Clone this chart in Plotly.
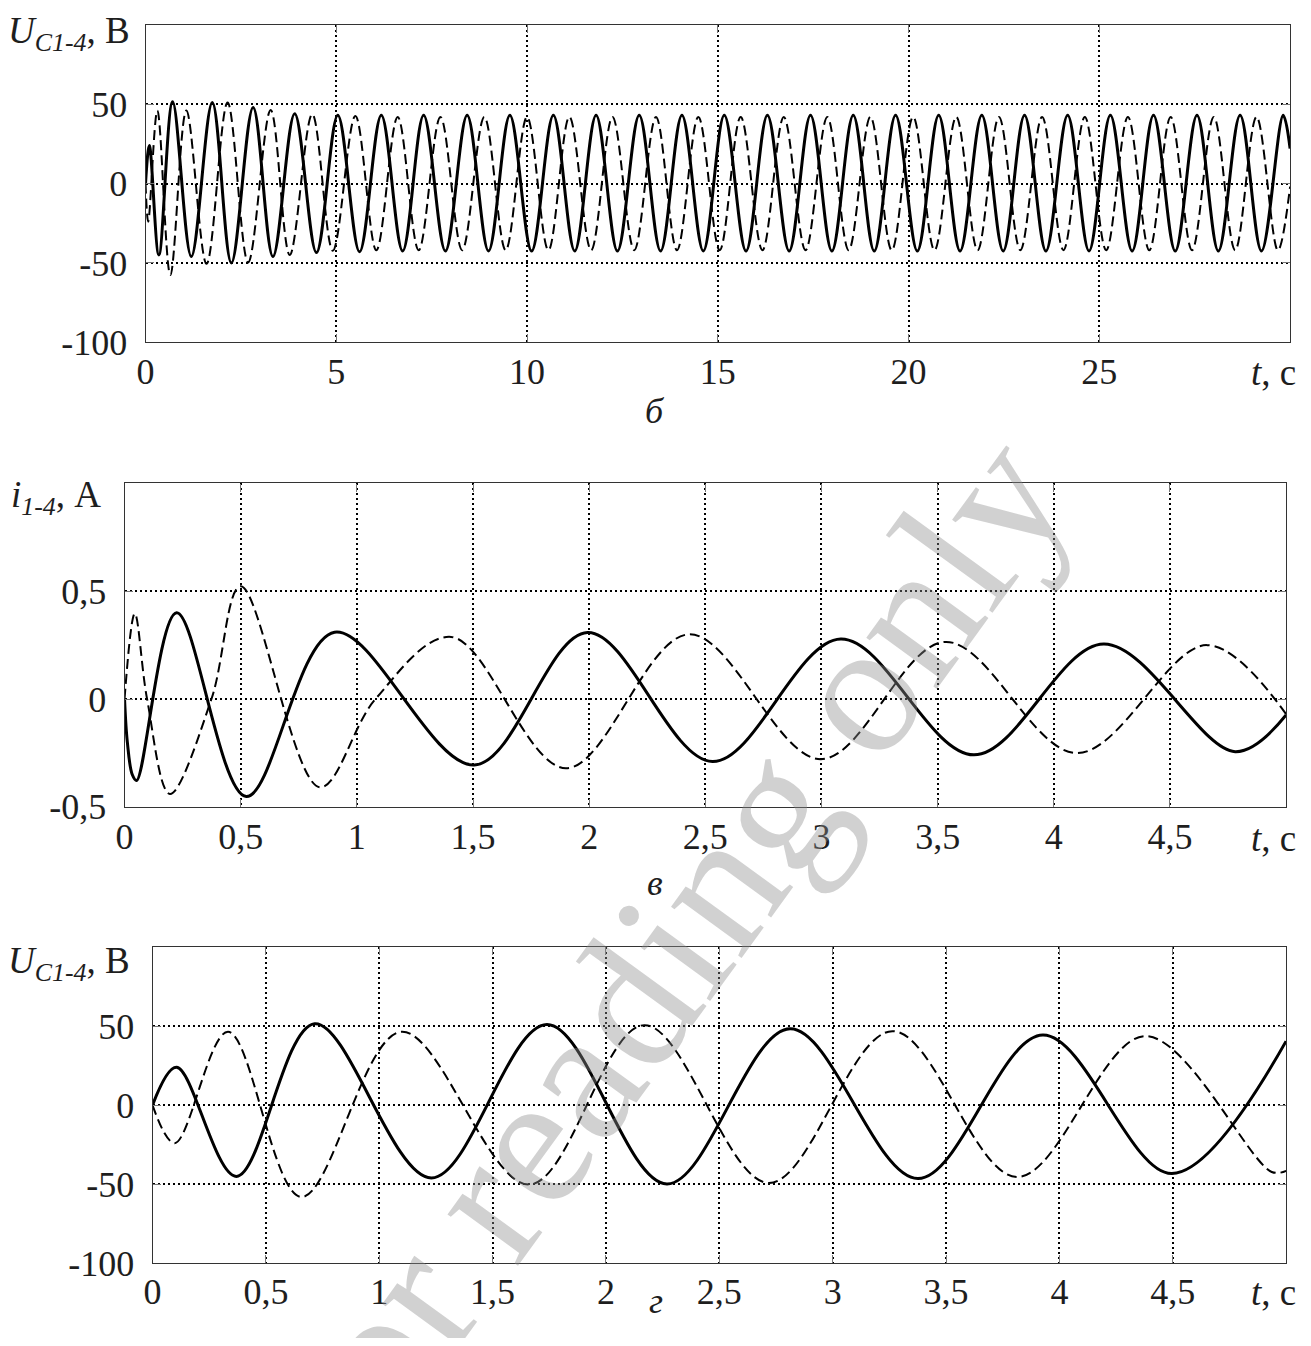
import plotly.graph_objects as go

# ---------------- data ----------------
# panel б : U_C1-4 over 0..30 s  (extrema of the curves)
b_solid_t = [0, 0.10, 0.35, 0.71, 1.20, 1.75, 2.25, 2.82, 3.34, 3.91, 4.48, 5.04, 5.61, 6.18, 6.74,
             7.29, 7.86, 8.43, 8.99, 9.55, 10.12, 10.69, 11.25, 11.81, 12.37, 12.94, 13.50, 14.06,
             14.62, 15.17, 15.74, 16.30, 16.87, 17.43, 17.99, 18.55, 19.10, 19.66, 20.23, 20.79,
             21.35, 21.92, 22.48, 23.04, 23.60, 24.17, 24.73, 25.29, 25.86, 26.42, 26.99, 27.56,
             28.12, 28.69, 29.25, 29.82, 30.0]
b_solid_v = [0, 24, -45, 51.5, -46, 51, -50, 48, -46, 44, -43.5, 43, -43, 43, -42.5,
             43, -42.5, 43, -42.5, 43, -42.5, 43, -42.5, 43, -42.5, 43, -42.5, 43,
             -42.5, 43, -42.5, 43, -42.5, 43, -42.5, 43, -42.5, 43, -42.5, 43,
             -42.5, 43, -42.5, 43, -42.5, 43, -42.5, 43, -42.5, 43, -42.5, 43,
             -42.5, 43, -42.5, 43, 22]
b_dash_t = [0, 0.07, 0.31, 0.65, 1.07, 1.60, 2.15, 2.69, 3.28, 3.78, 4.37, 4.91, 5.50, 6.05, 6.61,
            7.16, 7.73, 8.30, 8.88, 9.44, 10.00, 10.56, 11.11, 11.68, 12.24, 12.81, 13.38, 13.93,
            14.49, 15.05, 15.60, 16.17, 16.73, 17.30, 17.87, 18.43, 19.00, 19.56, 20.12, 20.68,
            21.25, 21.81, 22.37, 22.93, 23.50, 24.06, 24.62, 25.18, 25.75, 26.31, 26.87, 27.43,
            28.00, 28.56, 29.12, 29.68, 30.0]
b_dash_v = [0, -24, 46, -57.6, 46, -50.6, 51, -49.7, 46.4, -45, 43.7, -42.3, 42.6, -42, 42,
            -42, 42, -42, 42, -42, 42, -42, 42, -42, 42, -42, 42, -42,
            42, -42, 42, -42, 42, -42, 42, -42, 42, -42, 42, -42,
            42, -42, 42, -42, 42, -42, 42, -42, 42, -42, 42, -42,
            42, -42, 42, -42, -2]

# panel в : i_1-4 over 0..5 s
c_solid_t = [0, 0.012, 0.033, 0.052, 0.224, 0.524, 0.904, 1.506, 1.993, 2.531, 3.083, 3.656,
             4.215, 4.781, 5.0]
c_solid_v = [0, -0.20, -0.35, -0.378, 0.40, -0.452, 0.31, -0.306, 0.309, -0.29, 0.278, -0.259,
             0.255, -0.244, -0.074]
c_dash_t = [0, 0.044, 0.097, 0.195, 0.374, 0.50, 0.84, 1.08, 1.406, 1.90, 2.43, 2.997, 3.534,
            4.10, 4.659, 5.0]
c_dash_v = [0, 0.397, 0.0, -0.44, 0.0, 0.523, -0.409, 0.0, 0.288, -0.321, 0.30, -0.279, 0.265,
            -0.251, 0.25, -0.07]

# panel г : U_C1-4 over 0..5 s
d_solid_t = [0, 0.106, 0.37, 0.715, 1.23, 1.74, 2.269, 2.812, 3.376, 3.927, 4.496, 5.0]
d_solid_v = [0, 24, -45, 51.5, -46, 51, -49.8, 48.3, -46.4, 44.3, -43.2, 40.5]
d_dash_t = [0, 0.098, 0.333, 0.656, 1.097, 1.662, 2.169, 2.719, 3.263, 3.813, 4.379, 4.937, 5.0]
d_dash_v = [0, -24, 46.4, -58, 46.4, -50.2, 50.6, -49.2, 46.8, -45.4, 43.7, -42.2, -41.5]

# tick labels
b_xticks = [0, 5, 10, 15, 20, 25]
b_xtext = ["0", "5", "10", "15", "20", "25"]
u_yticks = [-100, -50, 0, 50]
u_ytext = ["-100", "-50", "0", "50"]
s_xticks = [0, 0.5, 1, 1.5, 2, 2.5, 3, 3.5, 4, 4.5]
s_xtext = ["0", "0,5", "1", "1,5", "2", "2,5", "3", "3,5", "4", "4,5"]
i_yticks = [-0.5, 0, 0.5]
i_ytext = ["-0,5", "0", "0,5"]

# ---------------- layout geometry ----------------
W, H = 1295, 1330
# observed mapping of figure pixels to the photographed picture
SX, OX = 0.9943, 15.4
SY, OY = 0.983, 8.3


def FX(px):
    return px / SX - OX


def FY(py):
    return py / SY - OY


def dom_x(l, r):
    return [FX(l) / W, FX(r) / W]


def dom_y(t, b):
    return [1 - FY(b) / H, 1 - FY(t) / H]


FONT = "Liberation Serif, Times New Roman, serif"
TXT = "#1e1e1e"

fig = go.Figure()

solid = dict(color="black", width=3, shape="spline", smoothing=1)
dashed = dict(color="black", width=2, dash="10px,5px", shape="spline", smoothing=1)

fig.add_trace(go.Scatter(x=b_solid_t, y=b_solid_v, mode="lines", line=solid, xaxis="x", yaxis="y"))
fig.add_trace(go.Scatter(x=b_dash_t, y=b_dash_v, mode="lines", line=dashed, xaxis="x", yaxis="y"))
fig.add_trace(go.Scatter(x=c_solid_t, y=c_solid_v, mode="lines", line=solid, xaxis="x2", yaxis="y2"))
fig.add_trace(go.Scatter(x=c_dash_t, y=c_dash_v, mode="lines", line=dashed, xaxis="x2", yaxis="y2"))
fig.add_trace(go.Scatter(x=d_solid_t, y=d_solid_v, mode="lines", line=solid, xaxis="x3", yaxis="y3"))
fig.add_trace(go.Scatter(x=d_dash_t, y=d_dash_v, mode="lines", line=dashed, xaxis="x3", yaxis="y3"))

common = dict(
    showgrid=True, gridcolor="black", griddash="2px,3px", gridwidth=1.5,
    zeroline=False, showline=True, linecolor="#333", linewidth=1.2, mirror="ticks",
    ticks="inside", ticklen=8, tickcolor="#777", tickwidth=1,
    tickfont=dict(family=FONT, size=36, color=TXT), tickmode="array",
)

fig.update_layout(
    width=W, height=H, margin=dict(l=0, r=0, t=0, b=0),
    paper_bgcolor="white", plot_bgcolor="rgba(0,0,0,0)", showlegend=False,
    xaxis=dict(common, domain=dom_x(144, 1290), range=[0, 30], tickvals=b_xticks, ticktext=b_xtext,
               anchor="y", ticklabelstandoff=-3),
    yaxis=dict(common, domain=dom_y(25, 342), range=[-100, 100], tickvals=u_yticks, ticktext=u_ytext,
               anchor="x", ticklabelstandoff=10),
    xaxis2=dict(common, domain=dom_x(123, 1286), range=[0, 5], tickvals=s_xticks, ticktext=s_xtext,
                anchor="y2", ticklabelstandoff=-2),
    yaxis2=dict(common, domain=dom_y(483, 806), range=[-0.5, 1.0], tickvals=i_yticks, ticktext=i_ytext,
                anchor="x2", ticklabelstandoff=10),
    xaxis3=dict(common, domain=dom_x(151, 1286), range=[0, 5], tickvals=s_xticks, ticktext=s_xtext,
                anchor="y3", ticklabelstandoff=-4),
    yaxis3=dict(common, domain=dom_y(946, 1262), range=[-100, 100], tickvals=u_yticks, ticktext=u_ytext,
                anchor="x3", ticklabelstandoff=10),
)


def ann(text, fx, fy, xanchor="center", yanchor="middle", size=36, italic=False, yshift=0):
    fig.add_annotation(
        text=("<i>%s</i>" % text) if italic else text,
        x=fx / W, y=1 - fy / H, xref="paper", yref="paper",
        xanchor=xanchor, yanchor=yanchor, showarrow=False, yshift=yshift,
        font=dict(family=FONT, size=size, color=TXT),
    )


# watermark (drawn light so the curves stay visible)
fig.add_annotation(
    text="For reading only", x=FX(652) / W, y=1 - FY(970) / H, xref="paper", yref="paper",
    xanchor="center", yanchor="middle",
    showarrow=False, textangle=-54, font=dict(family=FONT, size=190, color="rgba(140,140,140,0.4)"),
)

ann("<i>U</i><sub><i>C1-4</i></sub>, В", FX(130), 0, xanchor="right", yanchor="top", size=37)
ann("<i>t</i>, с", FX(1298), FY(372), xanchor="right", size=37)
ann("б", FX(654), FY(411), italic=True)

ann("<i>i</i><sub><i>1-4</i></sub>, А", FX(101), FY(497), xanchor="right", size=37)
ann("<i>t</i>, с", FX(1298), FY(838), xanchor="right", size=37)
ann("в", FX(654), FY(882), italic=True)

ann("<i>U</i><sub><i>C1-4</i></sub>, В", FX(130), FY(962), xanchor="right", size=37)
ann("<i>t</i>, с", FX(1298), FY(1291), xanchor="right", size=37)
ann("г", FX(655), H, yanchor="bottom", italic=True, yshift=-6)

fig.write_html("out.html")
